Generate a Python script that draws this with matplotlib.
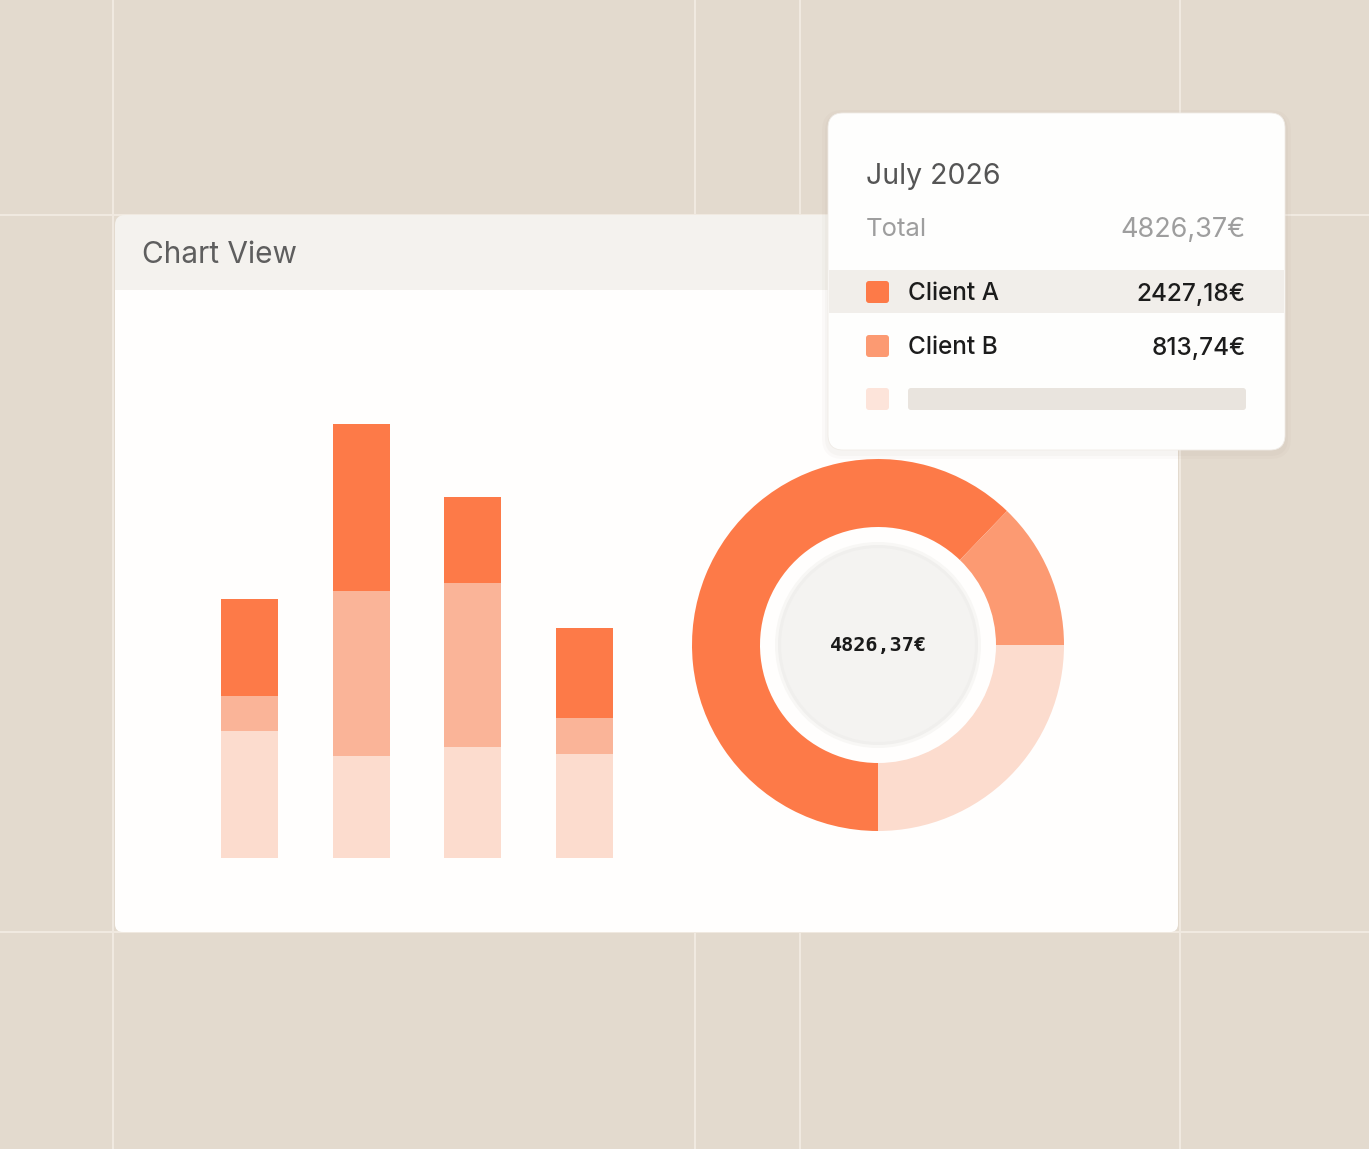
import matplotlib

matplotlib.use("Agg")
import matplotlib.pyplot as plt
from matplotlib.patches import FancyBboxPatch, Rectangle, Circle

# ── data ──────────────────────────────────────────────────────────────────
bar_light = [127, 102, 111, 104]   # bottom segment of each stacked bar
bar_mid = [35, 165, 164, 36]
bar_dark = [97, 167, 86, 90]       # top segment (Client A)

donut_labels = ["Client A", "Client B", "Other"]
donut_shares = [0.622, 0.128, 0.25]

tip_month = "July 2026"
tip_total = "4826,37€"
tip_clients = ["Client A", "Client B"]
tip_amounts = ["2427,18€", "813,74€"]
centre_label = "4826,37€"

DARK = "#FD7A48"
MID_BAR = "#FAB498"
MID_PIE = "#FC9A72"
LIGHT = "#FCDCCE"
BG = "#E3DACE"
GRID = "#F0E9E0"

W, H = 1369, 1149
plt.rcParams["font.family"] = ["Inter", "DejaVu Sans"]

fig = plt.figure(figsize=(W / 100, H / 100), dpi=100)
fig.patch.set_facecolor(BG)

# pixel-space canvas for the backdrop, cards and tooltip
bg = fig.add_axes([0, 0, 1, 1])
bg.set_xlim(0, W)
bg.set_ylim(H, 0)
bg.axis("off")
bg.set_zorder(0)

for x in [113, 695, 800, 1180]:
    bg.plot([x, x], [0, H], color=GRID, lw=1.5, zorder=1)
for y in [215, 932]:
    bg.plot([0, W], [y, y], color=GRID, lw=1.5, zorder=1)

# main card
bg.add_patch(FancyBboxPatch((115, 215), 1063, 717, boxstyle="round,pad=0,rounding_size=10",
                            fc="#F4F2EE", ec="none", zorder=2))
bg.add_patch(FancyBboxPatch((115, 290), 1063, 642, boxstyle="round,pad=0,rounding_size=8",
                            fc="#FFFEFD", ec="none", zorder=3))
bg.add_patch(Rectangle((115, 290), 1063, 20, fc="#FFFEFD", ec="none", zorder=3))
bg.text(142, 255, "Chart View", fontsize=21.5, color="#5E5E5E", va="center", ha="left", zorder=4)

# ── stacked bars ──────────────────────────────────────────────────────────
step, base = 111.5, 858
left = 249.5 - 0.75 * step
top = 330
axb = fig.add_axes([left / W, (H - base) / H, 4.5 * step / W, (base - top) / H])
axb.set_zorder(5)
axb.set_xlim(-0.75, 3.75)
axb.set_ylim(0, base - top)
axb.axis("off")
xs = range(len(bar_light))
bw = 57 / step
axb.bar(xs, bar_light, width=bw, color=LIGHT)
axb.bar(xs, bar_mid, width=bw, bottom=bar_light, color=MID_BAR)
axb.bar(xs, bar_dark, width=bw, bottom=[a + b for a, b in zip(bar_light, bar_mid)], color=DARK)

# ── donut ─────────────────────────────────────────────────────────────────
cx, cy, r = 878, 645, 186
axp = fig.add_axes([(cx - r) / W, (H - cy - r) / H, 2 * r / W, 2 * r / H])
axp.set_zorder(5)
axp.pie(donut_shares, colors=[DARK, MID_PIE, LIGHT], startangle=270, counterclock=False,
        radius=1, wedgeprops=dict(width=(r - 118) / r, linewidth=0))
axp.set_xlim(-1, 1)
axp.set_ylim(-1, 1)
axp.set_aspect("equal")
axp.axis("off")
for rr, c in [(103, "#F8F7F5"), (100, "#F0EFED"), (97, "#F4F3F1")]:
    axp.add_patch(Circle((0, 0), rr / r, fc=c, ec="none", zorder=5))
axp.text(0, -0.005, centre_label, family="DejaVu Sans Mono", fontweight="bold", fontsize=14.5,
         color="#1A1A1A", ha="center", va="center", zorder=6)

# ── tooltip card ──────────────────────────────────────────────────────────
tip = fig.add_axes([0, 0, 1, 1])
tip.set_xlim(0, W)
tip.set_ylim(H, 0)
tip.axis("off")
tip.set_zorder(10)
tip.patch.set_alpha(0)
for pad, a in [(6, 0.03), (3, 0.04)]:
    tip.add_patch(FancyBboxPatch((828 - pad, 113 - pad + 3), 457 + 2 * pad, 337 + 2 * pad,
                                 boxstyle=f"round,pad=0,rounding_size={15 + pad}",
                                 fc="#8A7A66", ec="none", alpha=a, zorder=1))
tip.add_patch(FancyBboxPatch((828, 113), 457, 337, boxstyle="round,pad=0,rounding_size=15",
                             fc="#FEFEFD", ec="#F0ECE7", lw=0.6, zorder=2))
tip.add_patch(Rectangle((829, 270), 455, 43, fc="#F1EEEA", ec="none", zorder=3))
tip.text(866, 176, tip_month, fontsize=20.5, color="#555555", va="center", ha="left", zorder=4)
tip.text(866, 230, "Total", fontsize=18.5, color="#9E9E9E", va="center", ha="left", zorder=4)
tip.text(1246, 230, tip_total, fontsize=19.5, color="#9E9E9E", va="center", ha="right", zorder=4)

row_y = [292, 346]
for y, name, amt, c in zip(row_y, tip_clients, tip_amounts, [DARK, MID_PIE]):
    tip.add_patch(FancyBboxPatch((866, y - 11), 23, 22, boxstyle="round,pad=0,rounding_size=3",
                                 fc=c, ec="none", zorder=4))
    tip.text(908, y + 2, name, fontsize=17.5, fontweight="medium", color="#1C1C1C",
             va="center", ha="left", zorder=4)
    tip.text(1246, y + 2, amt, fontsize=17.5, fontweight="medium", color="#1C1C1C",
             va="center", ha="right", zorder=4)
tip.add_patch(FancyBboxPatch((866, 388), 23, 22, boxstyle="round,pad=0,rounding_size=3",
                             fc="#FDE4DA", ec="none", zorder=4))
tip.add_patch(FancyBboxPatch((908, 388), 338, 22, boxstyle="round,pad=0,rounding_size=3",
                             fc="#E9E4DE", ec="none", zorder=4))

fig.savefig("out.png", dpi=100, facecolor=fig.get_facecolor())
